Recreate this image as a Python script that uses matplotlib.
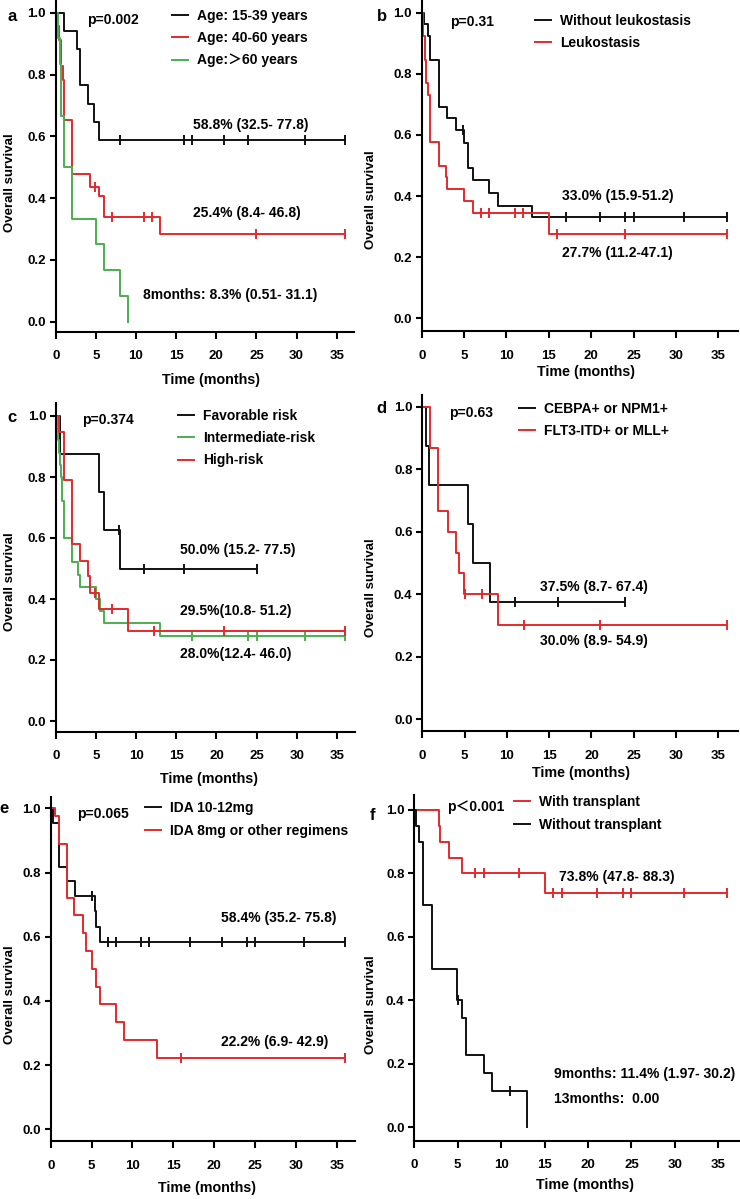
import matplotlib
matplotlib.use('Agg')
import matplotlib.pyplot as plt

plt.rcParams['font.family'] = ['Liberation Sans', 'Noto Sans CJK SC']
plt.rcParams['font.weight'] = 'bold'

# ---- data (time in months, survival fraction) ----
# a: age groups
a_young_t = [0, 1.0, 2.7, 3.0, 4.0, 4.8, 5.4]
a_young_s = [1.0, 0.941, 0.882, 0.765, 0.706, 0.647, 0.588]
a_young_c = [8, 16, 17, 21, 24, 31, 36]
a_mid_t = [0, 0.2, 0.4, 0.6, 0.7, 0.9, 1.0, 2.0, 4.3, 5.4, 6.0, 13.0]
a_mid_s = [1.0, 0.957, 0.913, 0.870, 0.826, 0.783, 0.652, 0.478, 0.435, 0.407, 0.340, 0.285]
a_mid_c = [4.9, 7, 11, 12, 25, 36]
a_old_t = [0, 0.3, 0.5, 0.6, 0.7, 1.0, 2.0, 5.0, 6.0, 8.0, 9.0]
a_old_s = [1.0, 0.917, 0.833, 0.75, 0.667, 0.5, 0.333, 0.25, 0.167, 0.083, 0.0]
a_old_c = []
a_labels = ['Age: 15-39 years', 'Age: 40-60 years', 'Age:\uff1e60 years']
a_p = 'p=0.002'
a_notes = ['58.8% (32.5- 77.8)', '25.4% (8.4- 46.8)', '8months: 8.3% (0.51- 31.1)']

# b: leukostasis
b_no_t = [0, 0.3, 0.8, 1.0, 2.0, 3.0, 4.0, 5.0, 5.5, 6.0, 8.0, 9.0, 13.0]
b_no_s = [1.0, 0.962, 0.923, 0.846, 0.692, 0.654, 0.615, 0.574, 0.492, 0.451, 0.41, 0.369, 0.33]
b_no_c = [4.85, 17, 21, 24, 25, 31, 36]
b_yes_t = [0, 0.2, 0.35, 0.5, 0.7, 1.0, 2.0, 2.9, 3.0, 5.0, 6.0, 15.0]
b_yes_s = [1.0, 0.923, 0.846, 0.769, 0.731, 0.577, 0.5, 0.462, 0.423, 0.385, 0.346, 0.277]
b_yes_c = [7, 8, 11, 12, 16, 24, 36]
b_labels = ['Without leukostasis', 'Leukostasis']
b_p = 'p=0.31'
b_notes = ['33.0% (15.9-51.2)', '27.7% (11.2-47.1)']

# c: risk groups
c_fav_t = [0, 0.5, 5.4, 6.0, 8.0]
c_fav_s = [1.0, 0.875, 0.75, 0.625, 0.5]
c_fav_c = [7.9, 11, 16, 25]
c_int_t = [0, 0.2, 0.3, 0.4, 0.5, 0.6, 0.7, 0.8, 1.0, 2.0, 2.7, 3.0, 5.0, 5.5, 6.0, 13.0]
c_int_s = [1.0, 0.96, 0.92, 0.88, 0.84, 0.80, 0.76, 0.72, 0.60, 0.52, 0.48, 0.44, 0.40, 0.36, 0.32, 0.28]
c_int_c = [17, 24, 25, 31, 36]
c_high_t = [0, 0.4, 1.0, 2.0, 3.0, 4.0, 4.3, 5.4, 9.0]
c_high_s = [1.0, 0.947, 0.789, 0.579, 0.526, 0.474, 0.421, 0.368, 0.295]
c_high_c = [4.9, 7, 12.2, 21, 36]
c_labels = ['Favorable risk', 'Intermediate-risk', 'High-risk']
c_p = 'p=0.374'
c_notes = ['50.0% (15.2- 77.5)', '29.5%(10.8- 51.2)', '28.0%(12.4- 46.0)']

# d: mutations
d_cebpa_t = [0, 0.4, 0.8, 5.4, 6.0, 8.0]
d_cebpa_s = [1.0, 0.875, 0.75, 0.625, 0.5, 0.375]
d_cebpa_c = [11, 16, 24]
d_flt3_t = [0, 0.9, 1.9, 3.0, 4.0, 4.3, 4.9, 9.0]
d_flt3_s = [1.0, 0.867, 0.667, 0.6, 0.533, 0.467, 0.4, 0.3]
d_flt3_c = [5.0, 7, 12, 21, 36]
d_labels = ['CEBPA+ or NPM1+', 'FLT3-ITD+ or MLL+']
d_p = 'p=0.63'
d_notes = ['37.5% (8.7- 67.4)', '30.0% (8.9- 54.9)']

# e: induction regimen
e_ida_t = [0, 0.3, 1.0, 2.0, 3.0, 5.4, 5.6, 6.0]
e_ida_s = [1.0, 0.955, 0.818, 0.773, 0.727, 0.679, 0.63, 0.582]
e_ida_c = [5.0, 7, 8, 11, 12, 17, 21, 24, 25, 31, 36]
e_other_t = [0, 0.5, 1.0, 2.0, 2.8, 4.0, 4.3, 5.0, 5.5, 6.0, 8.0, 9.0, 13.0]
e_other_s = [1.0, 0.975, 0.889, 0.722, 0.667, 0.611, 0.556, 0.5, 0.444, 0.389, 0.333, 0.278, 0.222]
e_other_c = [16, 36]
e_labels = ['IDA 10-12mg', 'IDA 8mg or other regimens']
e_p = 'p=0.065'
e_notes = ['58.4% (35.2- 75.8)', '22.2% (6.9- 42.9)']

# f: transplant
f_tx_t = [0, 2.8, 3.0, 4.0, 5.5, 15.0]
f_tx_s = [1.0, 0.95, 0.9, 0.85, 0.8, 0.738]
f_tx_c = [7, 8, 12, 16, 17, 21, 24, 25, 31, 36]
f_notx_t = [0, 0.2, 0.5, 1.0, 2.0, 4.9, 5.5, 6.0, 8.0, 9.0, 13.0]
f_notx_s = [1.0, 0.95, 0.9, 0.7, 0.5, 0.4, 0.343, 0.229, 0.171, 0.114, 0.0]
f_notx_c = [5.0, 11]
f_labels = ['With transplant', 'Without transplant']
f_p = 'p\uff1c0.001'
f_notes = ['73.8% (47.8- 88.3)', '9months: 11.4% (1.97- 30.2)', '13months:  0.00']

BLACK = '#111111'
RED = '#e5292c'
GREEN = '#4caf50'

W, H = 740, 1199
fig = plt.figure(figsize=(7.4, 11.99), dpi=100)


def fx(x):
    return x / W


def fy(y):
    return 1 - y / H


def surv_at(t, s, c):
    v = s[0]
    for ti, si in zip(t, s):
        if ti <= c:
            v = si
    return v


def km(ax, t, s, c, color, label):
    tt, ss = list(t), list(s)
    if c and max(c) > tt[-1]:
        tt.append(max(c))
        ss.append(ss[-1])
    line, = ax.step(tt, ss, where='post', color=color, lw=1.4, label=label)
    if c:
        ax.plot(c, [surv_at(t, s, ci) for ci in c], ls='none', marker='|',
                ms=6.5, mew=1.4, color=color)
    return line


def panel(geom, curves, labels, leg_xy, pval, p_xy, notes, note_xy,
          letter, letter_xy, ylab_xy, xlab_xy):
    x0, x35, xr, y1, y0, ybot, ytop = geom
    ppm = (x35 - x0) / 35.0
    ppu = y0 - y1
    ax = fig.add_axes([fx(x0), fy(ybot), (xr - x0) / W, (ybot - ytop) / H])
    ax.set_xlim(0, (xr - x0) / ppm)
    ax.set_ylim(-(ybot - y0) / ppu, 1 + (y1 - ytop) / ppu)
    for sp in ['top', 'right']:
        ax.spines[sp].set_visible(False)
    for sp in ['left', 'bottom']:
        ax.spines[sp].set_linewidth(1.5)
    ax.set_xticks(range(0, 36, 5))
    ax.set_yticks([0, 0.2, 0.4, 0.6, 0.8, 1.0])
    ax.set_yticklabels(['%.1f' % v for v in [0, 0.2, 0.4, 0.6, 0.8, 1.0]])
    ax.tick_params(axis='x', length=5, width=1.5, pad=8.5, labelsize=9.5)
    ax.tick_params(axis='y', length=4, width=1.5, pad=3, labelsize=9.5)
    for lb in ax.get_xticklabels() + ax.get_yticklabels():
        lb.set_fontweight('bold')

    handles = []
    for (t, s, c, color), lab in zip(curves, labels):
        handles.append(km(ax, t, s, c, color, lab))

    ax.legend(handles=handles, loc='upper left',
              bbox_to_anchor=(fx(leg_xy[0]), fy(leg_xy[1])),
              bbox_transform=fig.transFigure, frameon=False, borderpad=0,
              borderaxespad=0, handlelength=1.15, handletextpad=0.65,
              labelspacing=0.6, prop=dict(weight='bold', size=10))

    ax.text(p_xy[0], p_xy[1], pval, fontsize=10, fontweight='bold',
            ha='left', va='center')
    for txt, (nx, ny) in zip(notes, note_xy):
        ax.text(nx, ny, txt, fontsize=10, fontweight='bold', ha='left', va='center')

    fig.text(fx(letter_xy[0]), fy(letter_xy[1]), letter, fontsize=12,
             fontweight='bold', ha='center', va='baseline')
    fig.text(fx(ylab_xy[0]), fy(ylab_xy[1]), 'Overall survival', fontsize=9.5,
             fontweight='bold', rotation=90, ha='center', va='center')
    fig.text(fx(xlab_xy[0]), fy(xlab_xy[1]), 'Time (months)', fontsize=10.3,
             fontweight='bold', ha='center', va='center')
    return ax


panel((55.7, 336.7, 354, 12.7, 321.7, 331.7, 0),
      [(a_young_t, a_young_s, a_young_c, BLACK),
       (a_mid_t, a_mid_s, a_mid_c, RED),
       (a_old_t, a_old_s, a_old_c, GREEN)],
      a_labels, (172.3, 8.7), a_p, (3.9, 0.976),
      a_notes, [(17.05, 0.636), (17.05, 0.351), (10.9, 0.086)],
      'a', (12, 20.7), (10, 183), (210.7, 380))

panel((421.7, 718.3, 738.3, 12.7, 318.3, 331, 0),
      [(b_no_t, b_no_s, b_no_c, BLACK),
       (b_yes_t, b_yes_s, b_yes_c, RED)],
      b_labels, (535, 13.7), b_p, (3.34, 0.971),
      b_notes, [(16.6, 0.40), (16.6, 0.213)],
      'b', (382, 20.7), (371, 200), (586, 371.7))

panel((56, 336.7, 355, 416, 721, 731.7, 403),
      [(c_fav_t, c_fav_s, c_fav_c, BLACK),
       (c_int_t, c_int_s, c_int_c, GREEN),
       (c_high_t, c_high_s, c_high_c, RED)],
      c_labels, (178.3, 408.7), c_p, (3.2, 0.987),
      c_notes, [(15.46, 0.561), (15.46, 0.362), (15.46, 0.219)],
      'c', (11.5, 421.7), (10, 582), (209, 779))

panel((422.3, 718.3, 738.3, 406.7, 719, 731, 395),
      [(d_cebpa_t, d_cebpa_s, d_cebpa_c, BLACK),
       (d_flt3_t, d_flt3_s, d_flt3_c, RED)],
      d_labels, (519.3, 402), d_p, (3.19, 0.979),
      d_notes, [(13.9, 0.424), (13.9, 0.251)],
      'd', (381.7, 413.3), (371, 588), (581, 773))

panel((50.7, 336.7, 355, 808.3, 1129.3, 1141, 797),
      [(e_ida_t, e_ida_s, e_ida_c, BLACK),
       (e_other_t, e_other_s, e_other_c, RED)],
      e_labels, (145, 801.3), e_p, (3.26, 0.982),
      e_notes, [(20.8, 0.657), (20.8, 0.273)],
      'e', (4, 812.7), (10, 995), (207, 1188))

panel((414.3, 718.3, 740, 810, 1127.3, 1140.7, 795),
      [(f_tx_t, f_tx_s, f_tx_c, RED),
       (f_notx_t, f_notx_s, f_notx_c, BLACK)],
      f_labels, (514, 795.3), f_p, (3.72, 1.01),
      f_notes, [(16.7, 0.788), (16.1, 0.168), (16.1, 0.088)],
      'f', (372.5, 820), (371, 1005), (585, 1185))

fig.savefig('out.png', dpi=100)
